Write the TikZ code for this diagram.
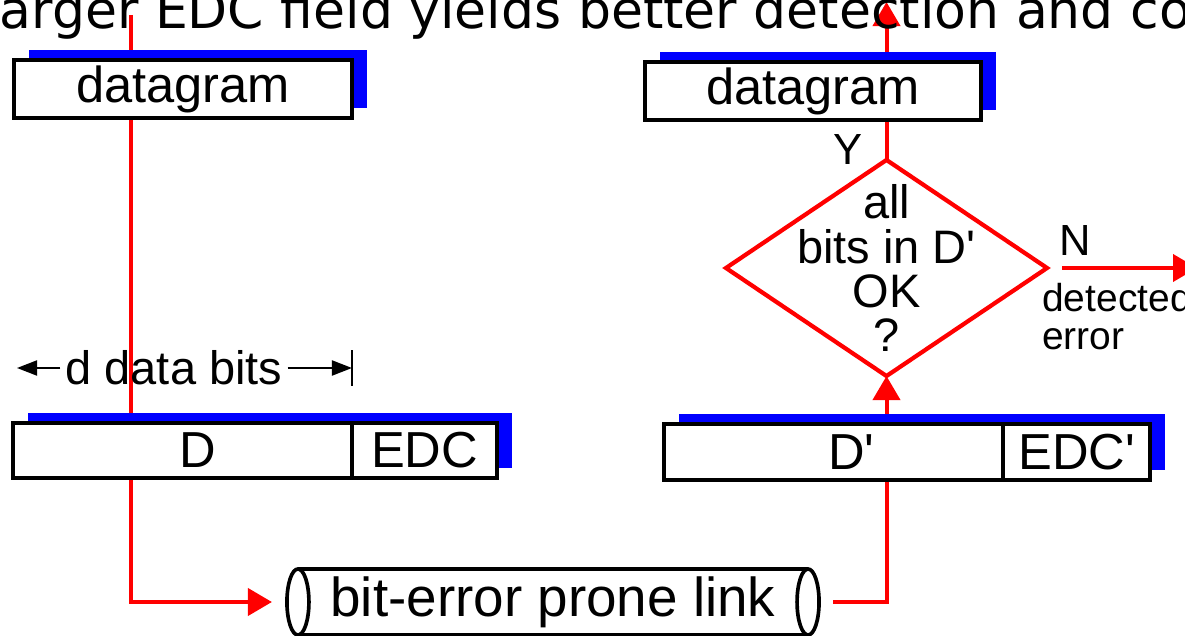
\documentclass[tikz,border=0pt]{standalone}
\usepackage{fontspec}
\setmainfont{Liberation Sans}
\newfontfamily\dejavu{DejaVu Sans}
\usepackage{tikz}
\usetikzlibrary{positioning,arrows.meta,shapes.geometric,shadows,backgrounds}

\newcommand{\fsHead}{\dejavu\fontsize{37pt}{44pt}\selectfont}
\newcommand{\fsBox}{\fontsize{36pt}{43pt}\selectfont}
\newcommand{\fsDim}{\fontsize{33.4pt}{40pt}\selectfont}
\newcommand{\fsChk}{\fontsize{33.4pt}{31.3pt}\selectfont}
\newcommand{\fsLink}{\fontsize{39pt}{46pt}\selectfont}
\newcommand{\fsNote}{\fontsize{27.7pt}{27pt}\selectfont}
\newcommand{\fsYN}{\fontsize{31pt}{37pt}\selectfont}

\begin{document}
\begin{tikzpicture}[x=0.025cm,y=-0.025cm,
  frame/.style={draw=black,fill=white,line width=2.85pt,outer sep=0pt,inner sep=0pt,
                minimum height=1.45cm,font=\fsBox,
                drop shadow={shadow xshift=0.375cm,shadow yshift=0.25cm,fill=blue,opacity=1}},
  field/.style={frame,minimum height=1.375cm},
  check/.style={diamond,draw=red,fill=white,line width=3pt,inner sep=0pt,outer sep=0pt,
                minimum width=8.025cm,minimum height=5.4cm},
  tube/.style={draw=black,line width=2.6pt},
  redline/.style={draw=red,line width=2.85pt},
  redarr/.style={redline,-{Triangle[length=0.6cm,width=0.675cm]}},
  dimarr/.style={draw=black,line width=1.4pt,-{Triangle[length=0.5cm,width=0.375cm]}},
  dimline/.style={draw=black,line width=1.4pt},
  lbl/.style={inner sep=0pt,font=\fsYN}]
\useasboundingbox (0,0) rectangle (1185,636);

\node[font=\fsHead,anchor=base west,inner sep=0pt] (head) at (-15,29)
  {larger EDC field yields better detection and correction};

% sender side
\node[frame,minimum width=8.45cm] (sendDg) at (183,89) {datagram};
\node[font=\fsDim,inner sep=0.125cm] (dBits) at (174,368) {d data bits};
\coordinate (dStart) at (17,368);
\coordinate (dEnd) at (352,368);
\draw[dimarr] (dBits.west) -- (dStart);
\draw[dimarr] (dBits.east) -- (dEnd);
\draw[dimline] ([yshift=0.44cm]dEnd) -- ([yshift=-0.44cm]dEnd);
\node[field,minimum width=8.475cm] (sendD) at (182.5,450.5) {\hspace*{0.75cm}D};
\node[field,minimum width=3.625cm,right=0pt of sendD] (sendEdc) {EDC};

% link
\node[font=\fsLink,minimum width=12.75cm,minimum height=1.65cm,inner sep=0pt,outer sep=0pt]
  (link) at (553,602) {bit-error prone link};
\draw[tube] (link.north west) -- (link.north east) (link.south west) -- (link.south east);
\draw[tube] (link.west) ellipse [x radius=0.275cm,y radius=0.825cm]
            (link.east) ellipse [x radius=0.275cm,y radius=0.825cm];

% receiver side
\node[frame,minimum width=8.4cm] (recvDg) at (813,91) {datagram};
\node[check] (chk) at (886.5,268) {};
\node[font=\fsChk,align=center,inner sep=0pt] (chkText) at (chk.center)
  {all\\bits in D\textquotesingle\\OK\\?};
\node[field,minimum width=8.475cm] (recvD) at (833.5,452) {\hspace*{0.9cm}D\textquotesingle};
\node[field,minimum width=3.675cm,right=0pt of recvD] (recvEdc) {EDC\textquotesingle};
\node[lbl] (yes) at (848,150) {Y};
\node[lbl] (no) at (1075,241) {N};
\node[font=\fsNote,align=left,anchor=north west,inner sep=0pt] (err) at (1042,283)
  {detected\\error};
\coordinate (srcTop) at (131,15);
\coordinate (okOut) at (886.5,2);
\coordinate (errOut) at (1197,268);

\begin{scope}[on background layer]
\draw[redarr] (srcTop) |- ([xshift=-0.65cm]link.west);
\draw[redarr] ([xshift=0.625cm]link.east) -| (chk.south);
\draw[redarr] (chk.north) -- (okOut);
\draw[redarr] ([xshift=0.375cm]chk.east) -- (errOut);
\end{scope}
\end{tikzpicture}
\end{document}
